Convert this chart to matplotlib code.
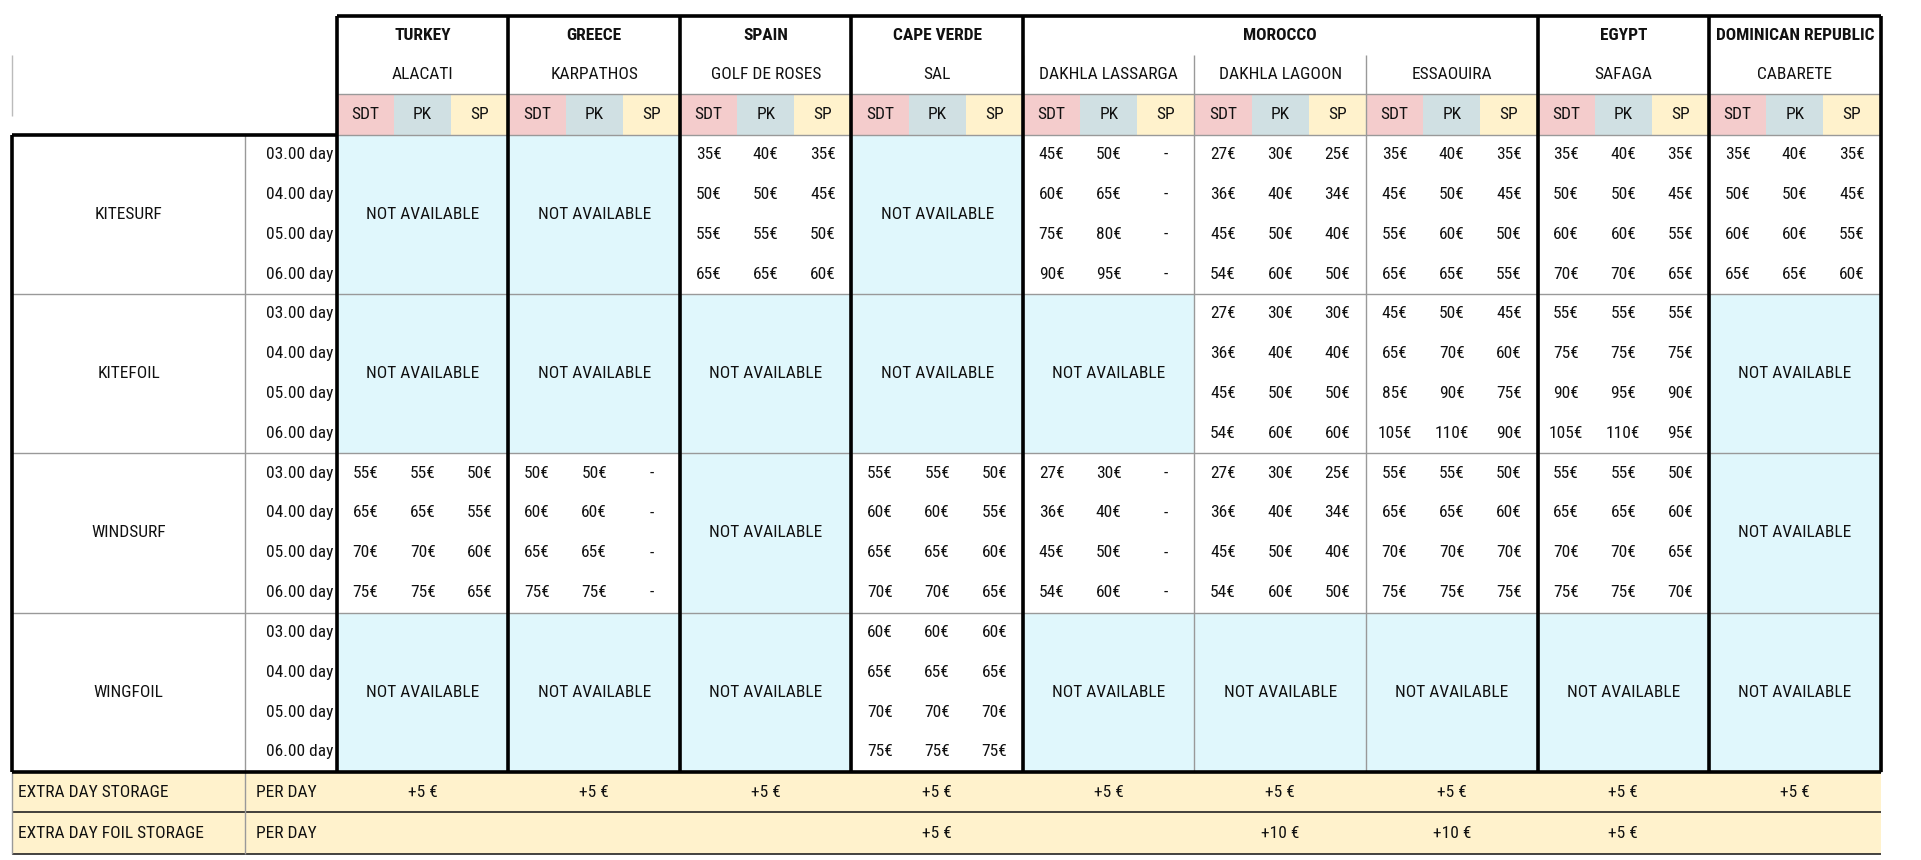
import matplotlib
matplotlib.use("Agg")
import matplotlib.pyplot as plt
from matplotlib.patches import Rectangle

countries = ["TURKEY", "GREECE", "SPAIN", "CAPE VERDE", "MOROCCO", "EGYPT", "DOMINICAN REPUBLIC"]
country_span = [1, 1, 1, 1, 3, 1, 1]
locations = ["ALACATI", "KARPATHOS", "GOLF DE ROSES", "SAL", "DAKHLA LASSARGA",
             "DAKHLA LAGOON", "ESSAOUIRA", "SAFAGA", "CABARETE"]
subcols = ["SDT", "PK", "SP"]
sports = ["KITESURF", "KITEFOIL", "WINDSURF", "WINGFOIL"]
days = ["03.00 day", "04.00 day", "05.00 day", "06.00 day"]

kitesurf = {
    "GOLF DE ROSES": [["35€", "40€", "35€"], ["50€", "50€", "45€"], ["55€", "55€", "50€"], ["65€", "65€", "60€"]],
    "DAKHLA LASSARGA": [["45€", "50€", "-"], ["60€", "65€", "-"], ["75€", "80€", "-"], ["90€", "95€", "-"]],
    "DAKHLA LAGOON": [["27€", "30€", "25€"], ["36€", "40€", "34€"], ["45€", "50€", "40€"], ["54€", "60€", "50€"]],
    "ESSAOUIRA": [["35€", "40€", "35€"], ["45€", "50€", "45€"], ["55€", "60€", "50€"], ["65€", "65€", "55€"]],
    "SAFAGA": [["35€", "40€", "35€"], ["50€", "50€", "45€"], ["60€", "60€", "55€"], ["70€", "70€", "65€"]],
    "CABARETE": [["35€", "40€", "35€"], ["50€", "50€", "45€"], ["60€", "60€", "55€"], ["65€", "65€", "60€"]],
}
kitefoil = {
    "DAKHLA LAGOON": [["27€", "30€", "30€"], ["36€", "40€", "40€"], ["45€", "50€", "50€"], ["54€", "60€", "60€"]],
    "ESSAOUIRA": [["45€", "50€", "45€"], ["65€", "70€", "60€"], ["85€", "90€", "75€"], ["105€", "110€", "90€"]],
    "SAFAGA": [["55€", "55€", "55€"], ["75€", "75€", "75€"], ["90€", "95€", "90€"], ["105€", "110€", "95€"]],
}
windsurf = {
    "ALACATI": [["55€", "55€", "50€"], ["65€", "65€", "55€"], ["70€", "70€", "60€"], ["75€", "75€", "65€"]],
    "KARPATHOS": [["50€", "50€", "-"], ["60€", "60€", "-"], ["65€", "65€", "-"], ["75€", "75€", "-"]],
    "SAL": [["55€", "55€", "50€"], ["60€", "60€", "55€"], ["65€", "65€", "60€"], ["70€", "70€", "65€"]],
    "DAKHLA LASSARGA": [["27€", "30€", "-"], ["36€", "40€", "-"], ["45€", "50€", "-"], ["54€", "60€", "-"]],
    "DAKHLA LAGOON": [["27€", "30€", "25€"], ["36€", "40€", "34€"], ["45€", "50€", "40€"], ["54€", "60€", "50€"]],
    "ESSAOUIRA": [["55€", "55€", "50€"], ["65€", "65€", "60€"], ["70€", "70€", "70€"], ["75€", "75€", "75€"]],
    "SAFAGA": [["55€", "55€", "50€"], ["65€", "65€", "60€"], ["70€", "70€", "65€"], ["75€", "75€", "70€"]],
}
wingfoil = {
    "SAL": [["60€", "60€", "60€"], ["65€", "65€", "65€"], ["70€", "70€", "70€"], ["75€", "75€", "75€"]],
}
sport_data = [kitesurf, kitefoil, windsurf, wingfoil]

extra_storage_label = ["EXTRA DAY STORAGE", "PER DAY"]
extra_storage = ["+5 €"] * 9
extra_foil_label = ["EXTRA DAY FOIL STORAGE", "PER DAY"]
extra_foil = ["", "", "", "+5 €", "", "+10 €", "+10 €", "+5 €", ""]

W, H = 1568, 702
fig = plt.figure(figsize=(19.21, 8.60), dpi=100)
ax = fig.add_axes([0, 0, 1, 1])
ax.set_xlim(0, W); ax.set_ylim(H, 0); ax.axis("off")
FONT = ["Roboto Condensed", "Liberation Sans Narrow", "Roboto", "DejaVu Sans"]
FS = 12.5

X0, XL, XD = 10, 200, 275
CW = 140
loc_x = [XD + i * CW for i in range(len(locations) + 1)]
Y_TOP, Y_LOC, Y_SUB, Y_DATA = 13, 45, 77, 110
GH = 130
RH = GH / 4
Y_EX1 = Y_DATA + 4 * GH
Y_EX2 = Y_EX1 + 33
Y_END = Y_EX2 + 34

def txt(x, y, s, bold=False, size=FS):
    ax.text(x, y, s, ha="center", va="center", fontsize=size, family=FONT,
            fontweight="bold" if bold else "normal", color="#111")

def hline(y, x1, x2, lw=1, c="#999"):
    ax.plot([x1, x2], [y, y], color=c, lw=lw, solid_capstyle="butt", zorder=3)

def vline(x, y1, y2, lw=1, c="#999"):
    ax.plot([x, x], [y1, y2], color=c, lw=lw, solid_capstyle="butt", zorder=3)

sub_colors = ["#f4cccc", "#d0e0e3", "#fff2cc"]
NA = "#e0f7fc"

for i, loc in enumerate(locations):
    x = loc_x[i]
    txt(x + CW / 2, (Y_LOC + Y_SUB) / 2, loc)
    for j, s in enumerate(subcols):
        ax.add_patch(Rectangle((x + j * CW / 3, Y_SUB), CW / 3, Y_DATA - Y_SUB, fc=sub_colors[j], ec="none"))
        txt(x + (j + 0.5) * CW / 3, (Y_SUB + Y_DATA) / 2, s)
ci = 0
for c, span in zip(countries, country_span):
    x1, x2 = loc_x[ci], loc_x[ci + span]
    txt((x1 + x2) / 2, (Y_TOP + Y_LOC) / 2, c, bold=True)
    ci += span

for si, sport in enumerate(sports):
    y0 = Y_DATA + si * GH
    txt((X0 + XL) / 2, y0 + GH / 2, sport)
    for d, day in enumerate(days):
        ax.text(XD - 3, y0 + (d + 0.5) * RH, day, ha="right", va="center", fontsize=FS, family=FONT, color="#111")
    for i, loc in enumerate(locations):
        x = loc_x[i]
        vals = sport_data[si].get(loc)
        if vals is None:
            ax.add_patch(Rectangle((x, y0), CW, GH, fc=NA, ec="none"))
            txt(x + CW / 2, y0 + GH / 2, "NOT AVAILABLE")
        else:
            for d, row in enumerate(vals):
                for j, v in enumerate(row):
                    txt(x + (j + 0.5) * CW / 3, y0 + (d + 0.5) * RH, v)
    if si > 0:
        hline(y0, X0, loc_x[-1])

for (lab, vals, ya, yb) in [(extra_storage_label, extra_storage, Y_EX1, Y_EX2),
                            (extra_foil_label, extra_foil, Y_EX2, Y_END)]:
    ax.add_patch(Rectangle((X0, ya), loc_x[-1] - X0, yb - ya, fc="#fff2cc", ec="none"))
    ax.text(X0 + 5, (ya + yb) / 2, lab[0], ha="left", va="center", fontsize=FS, family=FONT, color="#111")
    ax.text(XL + 9, (ya + yb) / 2, lab[1], ha="left", va="center", fontsize=FS, family=FONT, color="#111")
    for i, v in enumerate(vals):
        if v:
            txt(loc_x[i] + CW / 2, (ya + yb) / 2, v)
hline(Y_EX2, X0, loc_x[-1], lw=1.2, c="#222")
hline(Y_END, X0, loc_x[-1], lw=1.2, c="#222")
vline(XL, Y_EX1, Y_END, lw=1, c="#999")
vline(X0, Y_EX1, Y_END, lw=1, c="#999")

hline(Y_SUB, XD, loc_x[-1]); hline(Y_DATA, XD, loc_x[-1])
vline(XL, Y_DATA, Y_EX1)
for i in range(len(locations) + 1):
    vline(loc_x[i], Y_LOC, Y_EX1)
vline(X0, 45, 95, c="#bbb")

TL = 2.6
ci = 0
bounds = [0]
for span in country_span:
    ci += span
    bounds.append(ci)
for b in bounds:
    vline(loc_x[b], Y_TOP, Y_EX1, lw=TL, c="#000")
hline(Y_TOP, XD, loc_x[-1], lw=TL, c="#000")
hline(Y_EX1, X0, loc_x[-1], lw=TL, c="#000")
hline(Y_DATA, X0, XD, lw=TL, c="#000")
vline(X0, Y_DATA, Y_EX1, lw=TL, c="#000")

fig.savefig("out.png", dpi=100, facecolor="white")
